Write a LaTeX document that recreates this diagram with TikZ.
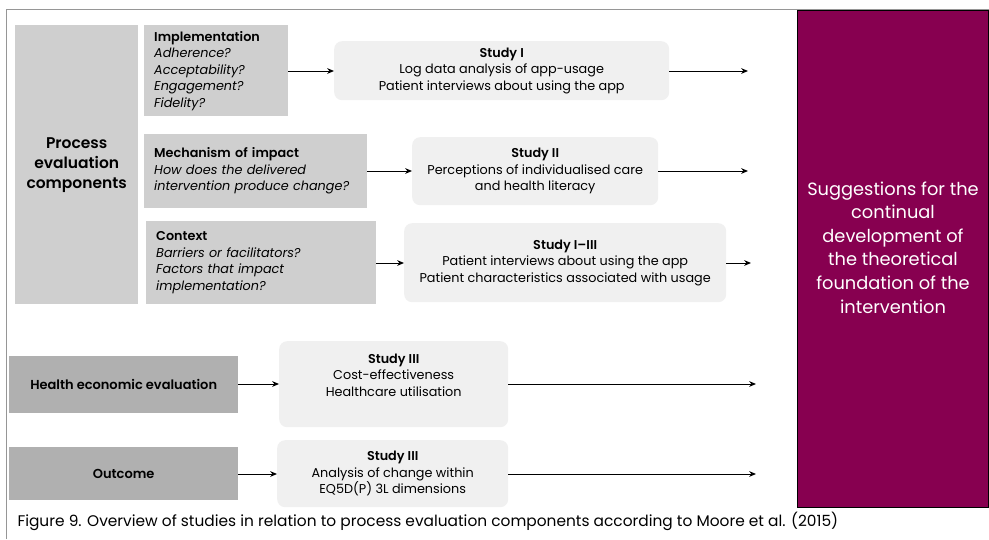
\documentclass[tikz,border=0pt]{standalone}
\usepackage{fontspec}
\setmainfont{Poppins}[BoldFont={Poppins SemiBold}]
\usetikzlibrary{arrows.meta,positioning}
\definecolor{compGrey}{RGB}{207,207,207}
\definecolor{darkGrey}{RGB}{176,176,176}
\definecolor{studyFill}{RGB}{240,240,240}
\definecolor{plum}{RGB}{135,0,80}
\definecolor{frameGrey}{RGB}{150,150,150}

\begin{document}
\begin{tikzpicture}[x=1pt,y=-1pt,font=\fontsize{12.8}{16.5}\selectfont,
        >={Stealth[length=2.4mm,width=2mm]},
        comp/.style={fill=compGrey,inner xsep=10pt,align=left,anchor=north west},
        outc/.style={fill=darkGrey,anchor=north west,font=\fontsize{13}{16.5}\selectfont\bfseries},
        study/.style={fill=studyFill,rounded corners=8pt,align=center,anchor=north west},
        arr/.style={->,line width=1pt}]
  \useasboundingbox (0,0) rectangle (989,539);
  \fill[white] (0,0) rectangle (989,539);
  \draw[frameGrey,line width=1pt] (6,539) |- (989,9);

  % left column
  \node[comp,fill=compGrey,minimum width=123pt,minimum height=279pt,align=center,
        font=\fontsize{15.5}{20}\selectfont\bfseries] (pec) at (15,25)
        {Process\\evaluation\\components};
  \node[comp,minimum width=144pt,minimum height=91pt,text width=124pt] (impl) at (144,25)
        {\textbf{Implementation}\\\textit{Adherence?}\\\textit{Acceptability?}\\
         \textit{Engagement?}\\\textit{Fidelity?}};
  \node[comp,minimum width=223pt,minimum height=74pt,text width=203pt] (mech) at (144,134)
        {\textbf{Mechanism of impact}\\\textit{How does the delivered}\\
         \textit{intervention produce change?}};
  \node[comp,minimum width=230pt,minimum height=83pt,text width=210pt] (ctx) at (146,221)
        {\textbf{Context}\\\textit{Barriers or facilitators?}\\\textit{Factors that impact}\\
         \textit{implementation?}};
  \node[outc,minimum width=229pt,minimum height=57pt] (hee) at (9,356)
        {Health economic evaluation};
  \node[outc,minimum width=229pt,minimum height=53pt] (outcome) at (9,447) {Outcome};

  % studies
  \node[study,minimum width=335pt,minimum height=59pt] (s1) at (334,41)
        {\textbf{Study I}\\Log data analysis of app-usage\\Patient interviews about using the app};
  \node[study,minimum width=246pt,minimum height=68pt] (s2) at (412,137)
        {\textbf{Study II}\\Perceptions of individualised care\\and health literacy};
  \node[study,minimum width=322pt,minimum height=79pt] (s13) at (404,223)
        {\textbf{Study I--III}\\Patient interviews about using the app\\
         Patient characteristics associated with usage};
  \node[study,minimum width=229pt,minimum height=86pt] (s3a) at (279,341)
        {\textbf{Study III}\\Cost-effectiveness\\Healthcare utilisation\\[2pt]};
  \node[study,minimum width=231pt,minimum height=67pt] (s3b) at (277,440)
        {\textbf{Study III}\\Analysis of change within\\EQ5D(P) 3L dimensions};

  % suggestions
  \node[fill=plum,draw=black,line width=1pt,anchor=north west,minimum width=191pt,
        minimum height=497pt,text=white,align=center,
        font=\fontsize{17.8}{23.6}\selectfont] (sugg) at (797,10)
        {Suggestions for the\\continual\\development of\\the theoretical\\foundation of the\\intervention\\[0pt]};

  % free arrow ends
  \coordinate (e1) at (748,71);
  \coordinate (e2) at (748,171);
  \coordinate (e3) at (751,263);
  \coordinate (e4) at (756,384);
  \coordinate (e5) at (756,474);

  \draw[arr] (impl.east|-e1) -- (s1.west|-e1);
  \draw[arr] (s1.east|-e1) -- (e1);
  \draw[arr] (mech.east|-e2) -- (s2.west|-e2);
  \draw[arr] (s2.east|-e2) -- (e2);
  \draw[arr] (ctx.east|-e3) -- (s13.west|-e3);
  \draw[arr] (s13.east|-e3) -- (e3);
  \draw[arr] (hee.east|-e4) -- (s3a.west|-e4);
  \draw[arr] (s3a.east|-e4) -- (e4);
  \draw[arr] (outcome.east|-e5) -- (s3b.west|-e5);
  \draw[arr] (s3b.east|-e5) -- (e5);

  \node[anchor=west,font=\fontsize{15.4}{18}\selectfont] (cap) at (14,521)
        {Figure 9. Overview of studies in relation to process evaluation components according to Moore et al. (2015)};
\end{tikzpicture}
\end{document}
